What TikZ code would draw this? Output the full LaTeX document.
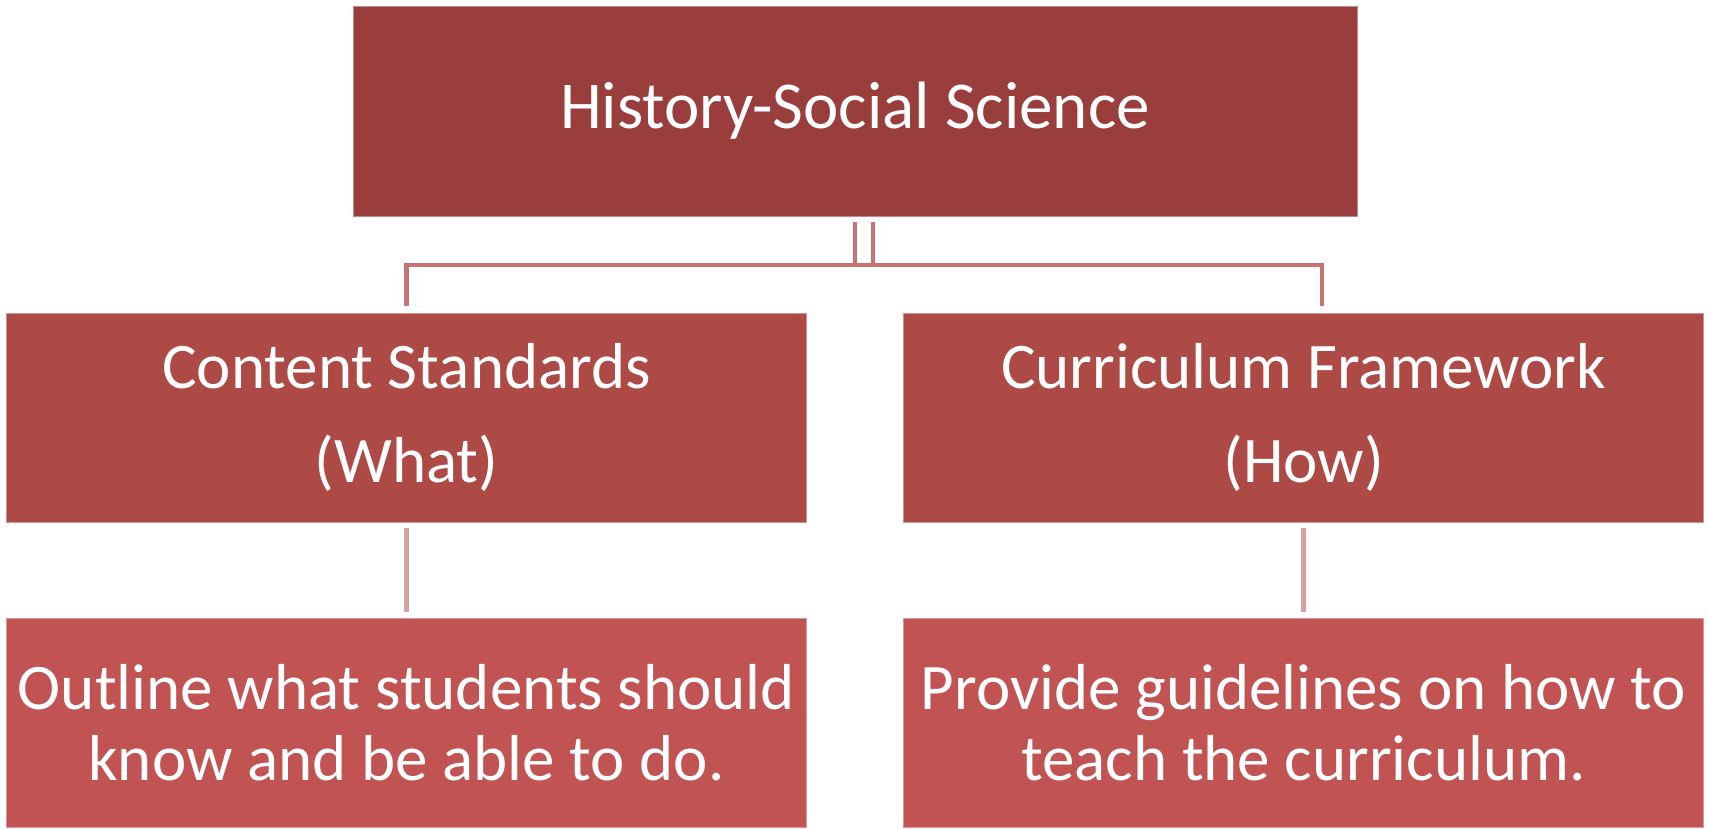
\documentclass[tikz,border=0pt]{standalone}
\usepackage{fontspec}
\setmainfont{Carlito}
\definecolor{topfill}{HTML}{9A3D3D}
\definecolor{midfill}{HTML}{AE4A46}
\definecolor{botfill}{HTML}{C15453}
\definecolor{connA}{HTML}{C87371}
\definecolor{connB}{HTML}{D9A0A0}
\begin{document}
\begin{tikzpicture}[x=1pt,y=-1pt,
  box/.style={rectangle,inner sep=0pt,text=white,align=center,draw=#1!60!white,line width=0.8pt,fill=#1},
  topbox/.style={box=topfill,minimum width=1004pt,minimum height=210pt,font=\fontsize{67}{84}\selectfont},
  midbox/.style={box=midfill,minimum width=800pt,minimum height=209pt,font=\fontsize{65}{94}\selectfont},
  botbox/.style={box=botfill,minimum width=800pt,minimum height=209pt,font=\fontsize{65}{71}\selectfont},
  connA/.style={draw=connA,line width=4.5pt},
  connB/.style={draw=connB,line width=4.5pt}]
\useasboundingbox (0,0) rectangle (1709,829);
\node[topbox] (top) at (855,111) {History-Social Science};
\node[midbox] (ml) at (406.5,417.5) {Content Standards\\(What)};
\node[midbox] (mr) at (1303.5,417.5) {Curriculum Framework\\(How)};
\node[botbox] (bl) at (406.5,722.5) {Outline what students should\\know and be able to do.};
\node[botbox] (br) at (1303.5,722.5) {Provide guidelines on how to\\teach the curriculum.};
\coordinate (d1a) at (855,222);
\coordinate (d1b) at (855,265);
\coordinate (d2a) at (873,222);
\coordinate (d2b) at (873,265);
\coordinate (hl) at (406.5,265);
\coordinate (hr) at (1322,265);
\coordinate (vl) at (406.5,306);
\coordinate (vr) at (1322,306);
\draw[connA] (d1a) -- (d1b);
\draw[connA] (d2a) -- (d2b);
\draw[connA] (vl) -- (hl) -- (hr) -- (vr);
\draw[connB] ([yshift=-5.5pt]ml.south) -- ([yshift=5.5pt]bl.north);
\draw[connB] ([yshift=-5.5pt]mr.south) -- ([yshift=5.5pt]br.north);
\end{tikzpicture}
\end{document}
